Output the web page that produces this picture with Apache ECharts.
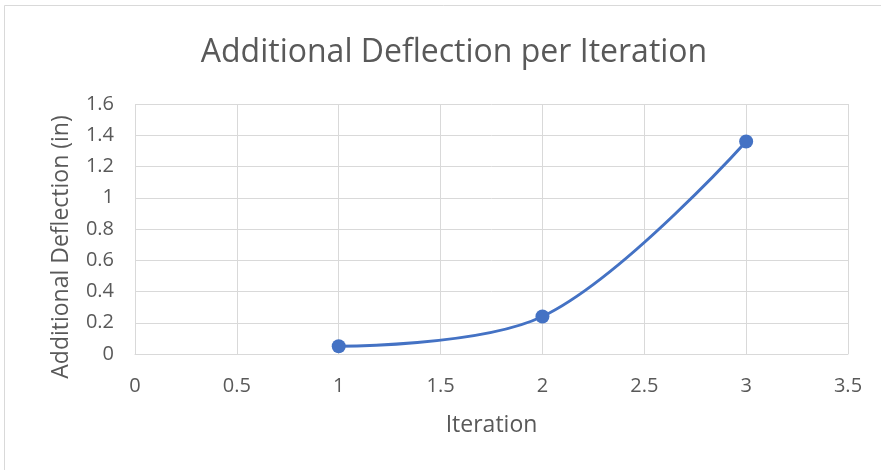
<!DOCTYPE html>
<html>
<head>
<meta charset="utf-8">
<style>
  html, body { margin: 0; padding: 0; background: #fff; }
  #chart { width: 881px; height: 470px; }
</style>
<script src="https://cdn.jsdelivr.net/npm/echarts@6/dist/echarts.min.js"></script>
</head>
<body>
<div id="chart"></div>
<script>
// Deflection added at each iteration (inches)
const iterations = [1, 2, 3];
const deflection = [0.05, 0.24, 1.36];

const chart = echarts.init(document.getElementById('chart'));
const font = '"Open Sans", "Liberation Sans", sans-serif';

chart.setOption({
  animation: false,
  backgroundColor: '#ffffff',
  title: {
    text: 'Additional Deflection per Iteration',
    left: 449,
    top: 32,
    textAlign: 'center',
    textStyle: { fontFamily: font, fontSize: 32, fontWeight: 'normal', color: '#595959' }
  },
  graphic: [{
    type: 'rect',
    shape: { x: 4.5, y: 5.5, width: 900, height: 500 },
    style: { fill: 'none', stroke: '#d9d9d9', lineWidth: 1 },
    silent: true
  }],
  grid: { left: 135, right: 33, top: 104, bottom: 116 },
  xAxis: {
    type: 'value',
    min: 0, max: 3.5, interval: 0.5,
    name: 'Iteration',
    nameLocation: 'middle',
    nameGap: 60,
    nameTextStyle: { fontFamily: font, fontSize: 23, color: '#595959' },
    axisLine: { show: true, lineStyle: { color: '#d9d9d9' } },
    axisTick: { show: false },
    axisLabel: { fontFamily: font, fontSize: 20, color: '#595959', margin: 22 },
    splitLine: { show: true, lineStyle: { color: '#d9d9d9', width: 1 } }
  },
  yAxis: {
    type: 'value',
    min: 0, max: 1.6, interval: 0.2,
    name: 'Additional Deflection (in)',
    nameLocation: 'middle',
    nameGap: 62,
    nameTextStyle: { fontFamily: font, fontSize: 23, color: '#595959', padding: [0, 36, 0, 0] },
    axisLine: { show: false },
    axisTick: { show: false },
    axisLabel: { fontFamily: font, fontSize: 20, color: '#595959', margin: 21 },
    splitLine: { show: true, lineStyle: { color: '#d9d9d9', width: 1 } }
  },
  series: [{
    type: 'line',
    data: iterations.map((x, i) => [x, deflection[i]]),
    smooth: 0.35,
    symbol: 'circle',
    symbolSize: 14,
    lineStyle: { color: '#4472C4', width: 3 },
    itemStyle: { color: '#4472C4' }
  }]
});
</script>
</body>
</html>
